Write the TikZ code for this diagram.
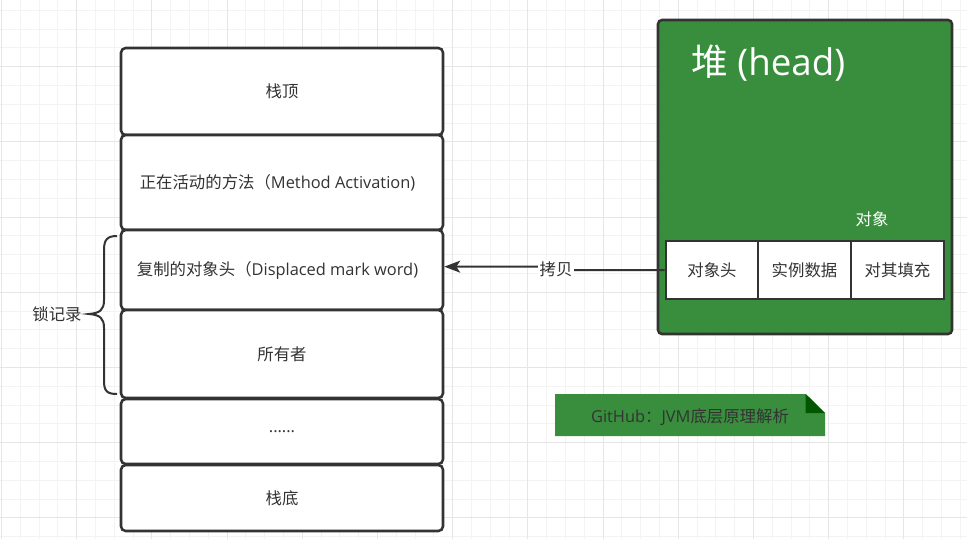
\documentclass[tikz,border=0pt]{standalone}
\usepackage{fontspec}
\setmainfont{Open Sans}
\newfontfamily\cjk{Noto Sans CJK SC}
\usetikzlibrary{arrows.meta}
\definecolor{ink}{HTML}{333333}
\definecolor{heapgreen}{HTML}{388E3C}
\definecolor{folddark}{HTML}{005700}
\definecolor{gridminor}{HTML}{F3F3F3}
\definecolor{gridmajor}{HTML}{E6E6E6}
\tikzset{
  stackbox/.style={draw=ink, line width=1.9pt, fill=white, rounded corners=3.5pt,
    minimum width=241.5pt, inner sep=0pt, text=ink, font=\fontsize{12.3pt}{14pt}\selectfont},
  objbox/.style={draw=ink, line width=1.9pt, fill=white, minimum height=43.5pt,
    inner sep=0pt, text=ink, font=\fontsize{12.3pt}{14pt}\cjk},
  lbl/.style={text=ink, inner sep=1pt, font=\fontsize{12.3pt}{14pt}\selectfont},
  arr/.style={draw=ink, line width=1.5pt, -{Stealth[length=12pt,width=9pt,inset=3pt]}},
}
\begin{document}
\begin{tikzpicture}[x=0.75pt,y=-0.75pt]
\fill[white] (0,0) rectangle (967,539);
\useasboundingbox (0,0) rectangle (967,539);
% grid
\foreach \i in {0,...,52} {
  \draw[gridminor, line width=0.75pt] ({1.5+18.8*\i},0) -- ({1.5+18.8*\i},539);
}
\foreach \i in {-1,...,28} {
  \draw[gridminor, line width=0.75pt] (0,{10.3+18.8*\i}) -- (967,{10.3+18.8*\i});
}
\foreach \i in {0,...,13} {
  \draw[gridmajor, line width=0.75pt] ({1.5+75.2*\i},0) -- ({1.5+75.2*\i},539);
}
\foreach \i in {0,...,7} {
  \draw[gridmajor, line width=0.75pt] (0,{-8.5+75.2*\i}) -- (967,{-8.5+75.2*\i});
}

% stack
\node[stackbox, minimum height=87*0.75pt] (top) at (282,91.5) {\cjk 栈顶};
\node[stackbox, minimum height=95*0.75pt] (active) at (282,182.5) {{\cjk 正在活动的方法（}Method Activation)\hspace*{6.75pt}};
\node[stackbox, minimum height=80*0.75pt] (dup) at (282,270) {\raisebox{1.5pt}{{\cjk 复制的对象头（}Displaced mark word)}\hspace*{6.75pt}};
\node[stackbox, minimum height=88*0.75pt] (owner) at (282,354) {\cjk 所有者};
\node[stackbox, minimum height=65*0.75pt] (dots) at (282,431.5) {......};
\node[stackbox, minimum height=66*0.75pt] (bottom) at (282,498) {\cjk 栈底};

% brace
\draw[ink, line width=1.5pt] (117,236) .. controls (107,236) and (104,240) .. (104,250)
  -- (104,300) .. controls (104,310) and (100,313) .. (89,314)
  .. controls (100,315) and (104,318) .. (104,328)
  -- (104,381) .. controls (104,391) and (107,394) .. (117,394);
\node[lbl, font=\fontsize{12.3pt}{14pt}\cjk] (lock) at (57,314) {锁记录};

% heap
\node[draw=ink, line width=1.9pt, fill=heapgreen, rounded corners=3pt,
  minimum width=294*0.75pt, minimum height=314*0.75pt, inner sep=0pt] (heap) at (805,177) {};
\node[anchor=west, text=white, inner sep=0pt, font=\fontsize{27.5pt}{30pt}\selectfont] (title) at (691,63) {{\cjk 堆} (head)};
\node[lbl, text=white, font=\fontsize{12.3pt}{14pt}\cjk] (objlbl) at (872,219) {对象};
\node[objbox, minimum width=92*0.75pt] (objhead) at (712,270) {对象头};
\node[objbox, minimum width=93*0.75pt] (inst) at (804.5,270) {实例数据};
\node[objbox, minimum width=93*0.75pt] (pad) at (897.5,270) {对其填充};

% copy arrow
\draw[arr] (objhead.west) -- (556,270) -- (556,266.7) -- ([yshift=2.5pt]dup.east);
\node[lbl, fill=white, font=\fontsize{12.3pt}{14pt}\cjk] (copy) at (556,269) {拷贝};

% note
\fill[heapgreen] (555,394) -- (805.7,394) -- (825,413) -- (825,436) -- (555,436) -- cycle;
\fill[folddark] (805.7,394) -- (805.7,413) -- (825,413) -- cycle;
\node[lbl] (note) at (690,417) {GitHub{\cjk ：}JVM{\cjk 底层原理解析}};
\end{tikzpicture}
\end{document}
